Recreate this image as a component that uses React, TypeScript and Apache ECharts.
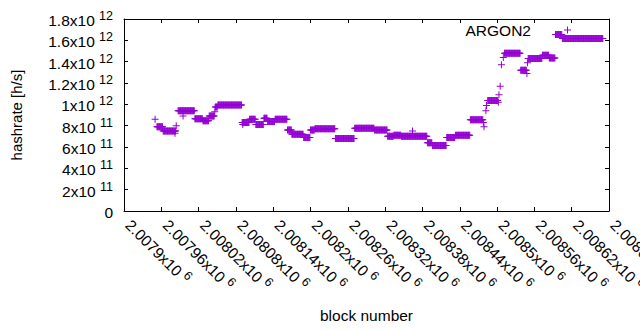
import React, { useEffect, useRef } from "react";
import * as echarts from "echarts";

// Piecewise-constant runs of hashrate (h/s): one point per block
const runStart = [
  2007953, 2007963, 2007987, 2008014, 2008027, 2008037, 2008047, 2008051, 2008090, 2008102,
  2008112, 2008125, 2008131, 2008143, 2008163, 2008170, 2008189, 2008200, 2008207, 2008240,
  2008271, 2008303, 2008324, 2008334, 2008346, 2008388, 2008396, 2008419, 2008433, 2008457,
  2008485, 2008512, 2008538, 2008550, 2008573, 2008584, 2008594, 2008605,
];
const runEnd = [
  2007962, 2007983, 2008013, 2008026, 2008036, 2008045, 2008050, 2008089, 2008101, 2008111,
  2008124, 2008130, 2008142, 2008162, 2008169, 2008188, 2008199, 2008206, 2008239, 2008270,
  2008302, 2008323, 2008333, 2008345, 2008387, 2008395, 2008418, 2008432, 2008456, 2008477,
  2008501, 2008537, 2008547, 2008572, 2008583, 2008593, 2008604, 2008670,
];
const runValue = [
  7.9e11, 7.5e11, 9.4e11, 8.65e11, 8.45e11, 8.9e11, 9.75e11, 9.93e11, 8.3e11, 8.6e11,
  8.1e11, 8.7e11, 8.4e11, 8.6e11, 7.6e11, 7.2e11, 6.9e11, 7.6e11, 7.7e11, 6.8e11,
  7.75e11, 7.6e11, 7.0e11, 7.1e11, 7.0e11, 6.4e11, 6.15e11, 6.9e11, 7.1e11, 8.55e11,
  1.035e12, 1.48e12, 1.32e12, 1.43e12, 1.46e12, 1.435e12, 1.655e12, 1.617e12,
];

// Isolated points
const singleBlock = [
  2007950, 2007982, 2007984, 2007995, 2008046, 2008091, 2008364, 2008478, 2008479,
  2008482, 2008483, 2008502, 2008503, 2008505, 2008507, 2008510, 2008548, 2008549,
];
const singleValue = [
  8.6e11, 7.3e11, 8.0e11, 8.9e11, 9.3e11, 8.1e11, 7.5e11, 8.3e11, 7.9e11,
  9.4e11, 9.9e11, 1.02e12, 1.09e12, 1.17e12, 1.37e12, 1.44e12, 1.29e12, 1.39e12,
];

const seriesName = "ARGON2";
const xTitle = "block number";
const yTitle = "hashrate [h/s]";

const FONT = "Liberation Sans, Arial, sans-serif";
const PLUS = "path://M0,3H7V4H0Z M3,0H4V7H3Z";

function sci(v: number): string {
  if (v === 0) return "{b|0}";
  const e = Math.floor(Math.log10(Math.abs(v)) + 1e-9);
  const m = parseFloat((v / Math.pow(10, e)).toPrecision(6));
  return `{b|${m}x10 }{s|${e}}`;
}

const rich = {
  b: { fontSize: 15.5, fontFamily: FONT, color: "#000", padding: [3, 0, 0, 0] },
  s: { fontSize: 12.5, fontFamily: FONT, color: "#000", verticalAlign: "top" },
};

export default function App() {
  const ref = useRef<HTMLDivElement>(null);
  useEffect(() => {
    if (!ref.current) return;
    const chart = echarts.init(ref.current, null, { renderer: "svg" });
    const data: number[][] = [];
    for (let i = 0; i < runStart.length; i++) {
      for (let b = runStart[i]; b <= runEnd[i]; b++) data.push([b, runValue[i]]);
    }
    for (let i = 0; i < singleBlock.length; i++) data.push([singleBlock[i], singleValue[i]]);

    const axisLine = { show: true, onZero: false, lineStyle: { color: "#000", width: 1 } };
    const axisTick = { show: true, inside: true, length: 4, lineStyle: { color: "#000", width: 1 } };
    const xRange = { min: 2007900, max: 2008680, interval: 60 };
    const yRange = { min: 0, max: 1.8e12, interval: 2e11 };

    chart.setOption({
      animation: false,
      backgroundColor: "#fff",
      textStyle: { fontFamily: FONT },
      grid: {
        left: 124,
        right: 31,
        top: 19,
        bottom: 119,
        containLabel: false,
        outerBoundsMode: "none",
      },
      legend: {
        data: [seriesName],
        right: 69,
        top: 22,
        padding: 0,
        align: "right",
        icon: PLUS,
        itemWidth: 7,
        itemHeight: 7,
        selectedMode: false,
        textStyle: { fontSize: 15.5, color: "#000", fontFamily: FONT, padding: [0, 28, 0, 0] },
      },
      xAxis: [
        {
          type: "value",
          position: "bottom",
          ...xRange,
          axisLine,
          axisTick,
          splitLine: { show: false },
          axisLabel: {
            rotate: -45,
            margin: 10,
            padding: [0, 0, 7, 4],
            showMinLabel: true,
            showMaxLabel: true,
            formatter: (v: number) => sci(v),
            rich,
          },
          name: xTitle,
          nameLocation: "middle",
          nameGap: 96,
          nameTextStyle: { fontSize: 15.5, color: "#000", fontFamily: FONT },
        },
        {
          type: "value",
          position: "top",
          ...xRange,
          axisLine,
          axisTick,
          splitLine: { show: false },
          axisLabel: { show: false },
        },
      ],
      yAxis: [
        {
          type: "value",
          position: "left",
          ...yRange,
          axisLine,
          axisTick,
          splitLine: { show: false },
          axisLabel: { margin: 11, formatter: (v: number) => sci(v), rich },
          name: yTitle,
          nameLocation: "middle",
          nameGap: 100,
          nameTextStyle: { fontSize: 15, color: "#000", fontFamily: FONT },
        },
        {
          type: "value",
          position: "right",
          ...yRange,
          axisLine,
          axisTick,
          splitLine: { show: false },
          axisLabel: { show: false },
        },
      ],
      series: [
        {
          name: seriesName,
          type: "scatter",
          xAxisIndex: 0,
          yAxisIndex: 0,
          data,
          symbol: PLUS,
          symbolSize: 7,
          progressive: 0,
          large: false,
          silent: true,
          itemStyle: { color: "#9400D3", opacity: 1 },
          emphasis: { disabled: true },
        },
      ],
    });
    return () => chart.dispose();
  }, []);
  return (
    <div
      ref={ref}
      style={{ position: "fixed", left: 0, top: 0, width: 640, height: 330, background: "#fff" }}
    />
  );
}
